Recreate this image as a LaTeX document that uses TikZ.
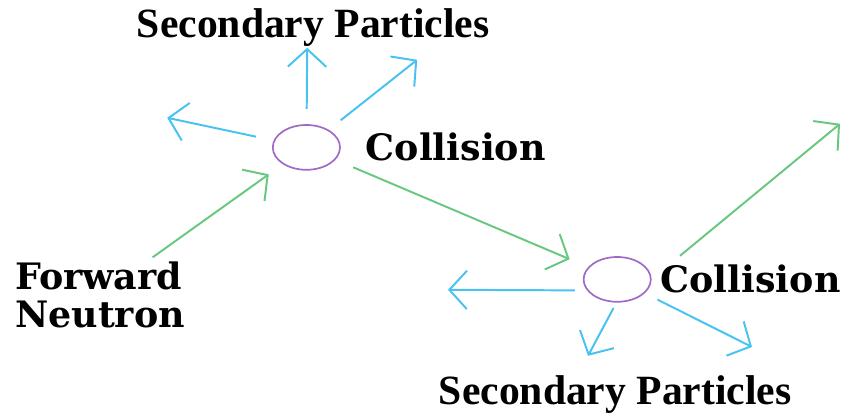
\documentclass[tikz,border=0pt]{standalone}
\usepackage{fontspec}
\setmainfont{Liberation Serif}
\newfontfamily\wideserif{DejaVu Serif}
\usetikzlibrary{
  arrows.meta,
  shapes.geometric,
  positioning
}
\definecolor{partblue}{RGB}{72,194,240}
\definecolor{neutgreen}{RGB}{104,200,128}
\definecolor{collpurple}{RGB}{160,105,200}

\begin{document}
\begin{tikzpicture}[>={Straight Barb[length=4.4mm,width=9.6mm]},
  coll/.style={ellipse,draw=collpurple,line width=1.2pt,minimum width=1.68cm,minimum height=1.12cm,inner sep=0pt},
  lab/.style={font=\wideserif\bfseries\fontsize{25.9}{26.5}\selectfont},
  sec/.style={font=\bfseries\fontsize{29.6}{32}\selectfont},
  spray/.style={->,draw=partblue,line width=1.4pt},
  beam/.style={->,draw=neutgreen,line width=1.4pt}]
  \useasboundingbox (0,0) rectangle (21.025,10.425);
  \node[coll] (C1) at (7.66,6.74) {};
  \node[coll] (C2) at (15.43,3.44) {};
  \node[lab,right=0.5cm of C1] (L1) {Collision};
  \node[lab,right=0.1cm of C2] (L2) {Collision};
  \node[sec] (S1) at (7.83,9.74) {Secondary Particles};
  \node[sec] (S2) at (15.38,0.55) {Secondary Particles};
  \node[lab,align=left] (F) at (2.5,3.05) {Forward\\Neutron};
  % free ends of the particle tracks
  \coordinate (P1) at (7.68,9.23);
  \coordinate (P2) at (10.43,8.93);
  \coordinate (P3) at (4.18,7.48);
  \coordinate (P4) at (11.2,3.18);
  \coordinate (P5) at (14.7,1.53);
  \coordinate (P6) at (18.8,1.75);
  \coordinate (Q0) at (17.0,4.03);
  \coordinate (Q1) at (21.0,7.33);
  \draw[spray,shorten <=3.8mm] (C1) -- (P1);
  \draw[spray,shorten <=3.8mm] (C1) -- (P2);
  \draw[spray,shorten <=4.5mm] (C1) -- (P3);
  \draw[spray,shorten <=3mm] (C2.200) -- (P4);
  \draw[spray,shorten <=1.5mm] (C2.268) -- (P5);
  \draw[spray,shorten <=3.5mm] (C2) -- (P6);
  \draw[beam,shorten >=4.3mm] (F) -- (C1);
  \draw[beam,shorten <=4.8mm,shorten >=5mm] (C1) -- (C2);
  \draw[beam] (Q0) -- (Q1);
\end{tikzpicture}
\end{document}
